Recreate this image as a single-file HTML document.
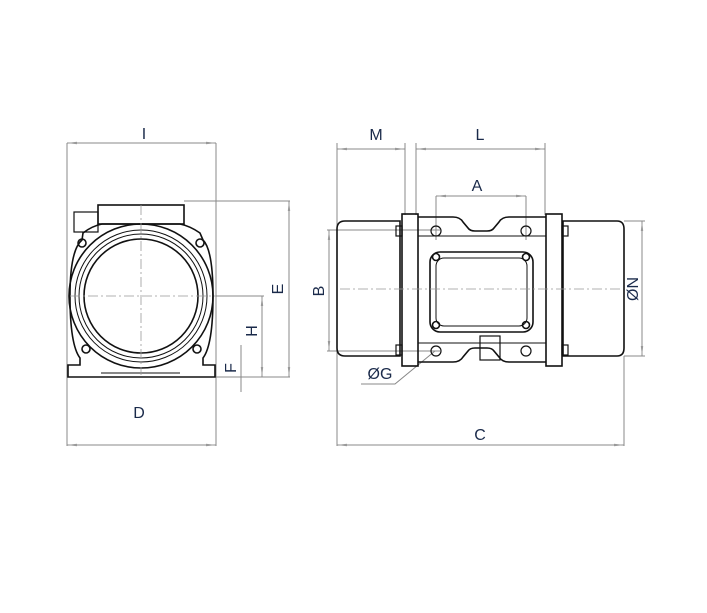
<!DOCTYPE html>
<html><head><meta charset="utf-8"><style>
html,body{margin:0;padding:0;background:#fff;}
svg{display:block}
text{font-family:"Liberation Sans",sans-serif;font-size:16px;fill:#1a2a4a}
</style></head><body>
<svg width="707" height="613" viewBox="0 0 707 613" xmlns="http://www.w3.org/2000/svg">
<defs>
<marker id="a" markerWidth="10" markerHeight="6" refX="10" refY="3" orient="auto-start-reverse" markerUnits="userSpaceOnUse"><path d="M10,3 L0,1.8 L0,4.2z" fill="#999"/></marker>
</defs>
<g stroke="#888" stroke-width="1" fill="none">
<line x1="67" y1="143" x2="67" y2="446"/><line x1="216" y1="143" x2="216" y2="446"/>
<line x1="67" y1="143" x2="216" y2="143" marker-start="url(#a)" marker-end="url(#a)"/>
<line x1="67" y1="445" x2="216" y2="445" marker-start="url(#a)" marker-end="url(#a)"/>
<line x1="184" y1="201" x2="290" y2="201"/><line x1="289" y1="201" x2="289" y2="377" marker-start="url(#a)" marker-end="url(#a)"/>
<line x1="216" y1="296" x2="264" y2="296"/><line x1="262" y1="296" x2="262" y2="377" marker-start="url(#a)" marker-end="url(#a)"/>
<line x1="216" y1="377" x2="290" y2="377"/>
<line x1="241" y1="345" x2="241" y2="392"/>
<line x1="337" y1="143" x2="337" y2="446"/><line x1="405" y1="143" x2="405" y2="215"/>
<line x1="416" y1="143" x2="416" y2="215"/><line x1="545" y1="143" x2="545" y2="215"/>
<line x1="337" y1="149" x2="405" y2="149" marker-start="url(#a)" marker-end="url(#a)"/><line x1="416" y1="149" x2="545" y2="149" marker-start="url(#a)" marker-end="url(#a)"/>
<line x1="436" y1="196" x2="436" y2="240"/><line x1="526" y1="196" x2="526" y2="240"/>
<line x1="436" y1="196" x2="526" y2="196" marker-start="url(#a)" marker-end="url(#a)"/>
<line x1="327" y1="230" x2="440" y2="230"/><line x1="327" y1="351" x2="440" y2="351"/>
<line x1="329" y1="230" x2="329" y2="351" marker-start="url(#a)" marker-end="url(#a)"/>
<line x1="624" y1="221" x2="645" y2="221"/><line x1="624" y1="356" x2="645" y2="356"/>
<line x1="642" y1="221" x2="642" y2="356" marker-start="url(#a)" marker-end="url(#a)"/>
<line x1="624" y1="356" x2="624" y2="446"/>
<line x1="337" y1="445" x2="624" y2="445" marker-start="url(#a)" marker-end="url(#a)"/>
<polyline points="435,351 395,384 361,384"/>
</g>
<g stroke="#111" stroke-width="1.6" fill="none">
<path d="M82,240 Q70,250 70,296 Q70,345 80,358 L80,365 L68,365 L68,377 L215,377 L215,365 L203,365 L203,358 Q213,345 213,296 Q213,250 203,240 L200,233 Q190,226 180,224 L102,224 Q92,226 83,233 Z"/>
<circle cx="141" cy="296" r="72"/>
<circle cx="141" cy="296" r="66" stroke-width="1"/>
<circle cx="141" cy="296" r="62" stroke-width="1"/>
<circle cx="141" cy="296" r="57"/>
<rect x="98" y="205" width="86" height="19"/>
<rect x="74" y="212" width="24" height="20" stroke-width="1.2"/>
<circle cx="82" cy="243" r="4"/><circle cx="200" cy="243" r="4"/>
<circle cx="86" cy="349" r="4"/><circle cx="197" cy="349" r="4"/>
<line x1="101" y1="373" x2="180" y2="373" stroke-width="1"/>
<path d="M345,221 L400,221 L400,356 L345,356 Q337,356 337,348 L337,229 Q337,221 345,221 Z"/>
<path d="M563,221 L617,221 Q624,221 624,229 L624,348 Q624,356 617,356 L563,356 Z"/>
<rect x="402" y="214" width="16" height="152"/>
<rect x="546" y="214" width="16" height="152"/>
<path d="M418,217 L453,217 Q460,217 463,222 L468,228 Q470,231 475,231 L487,231 Q492,231 494,228 L499,222 Q502,217 509,217 L546,217"/>
<path d="M418,362 L453,362 Q460,362 463,357 L468,351 Q470,348 475,348 L487,348 Q492,348 494,351 L499,357 Q502,362 509,362 L546,362"/>
<line x1="418" y1="236" x2="546" y2="236" stroke-width="1"/>
<line x1="418" y1="343" x2="546" y2="343" stroke-width="1"/>
<rect x="430" y="252" width="103" height="80" rx="10"/>
<rect x="436" y="258" width="91" height="68" rx="8" stroke-width="1"/>
<circle cx="436" cy="257" r="3.5"/><circle cx="526" cy="257" r="3.5"/>
<circle cx="436" cy="325" r="3.5"/><circle cx="526" cy="325" r="3.5"/>
<circle cx="436" cy="231" r="5" stroke-width="1.2"/><circle cx="526" cy="231" r="5" stroke-width="1.2"/>
<circle cx="436" cy="351" r="5" stroke-width="1.2"/><circle cx="526" cy="351" r="5" stroke-width="1.2"/>
<rect x="480" y="336" width="20" height="24" stroke-width="1.2"/>
<rect x="396" y="226" width="6" height="10" stroke-width="1.2"/><rect x="562" y="226" width="6" height="10" stroke-width="1.2"/>
<rect x="396" y="345" width="6" height="10" stroke-width="1.2"/><rect x="562" y="345" width="6" height="10" stroke-width="1.2"/>
</g>
<g stroke="#999" stroke-width="0.8" stroke-dasharray="10,3,2,3" fill="none">
<line x1="141" y1="205" x2="141" y2="375"/><line x1="70" y1="296" x2="216" y2="296"/>
<line x1="340" y1="289" x2="620" y2="289"/>
</g>
<text x="144" y="139" text-anchor="middle">I</text>
<text x="139" y="418" text-anchor="middle">D</text>
<text x="376" y="140" text-anchor="middle">M</text>
<text x="480" y="140" text-anchor="middle">L</text>
<text x="477" y="191" text-anchor="middle">A</text>
<text x="480" y="440" text-anchor="middle">C</text>
<text x="380" y="379" text-anchor="middle">ØG</text>
<text transform="translate(283,289) rotate(-90)" text-anchor="middle">E</text>
<text transform="translate(257,331) rotate(-90)" text-anchor="middle">H</text>
<text transform="translate(236,368) rotate(-90)" text-anchor="middle">F</text>
<text transform="translate(324,291) rotate(-90)" text-anchor="middle">B</text>
<text transform="translate(638,289) rotate(-90)" text-anchor="middle">ØN</text>
</svg>
</body></html>
